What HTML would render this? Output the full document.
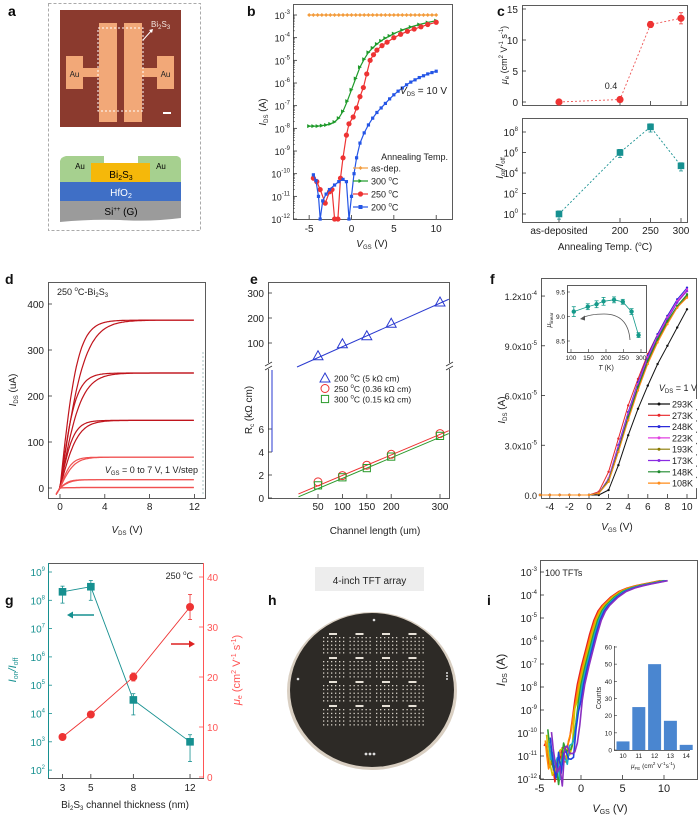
<!DOCTYPE html>
<html><head><meta charset="utf-8"><style>
html,body{margin:0;padding:0;background:#fff;}
svg{display:block;font-family:"Liberation Sans",Arial,sans-serif;}
</style></head><body>
<svg id="fig" width="700" height="817" viewBox="0 0 700 817" xmlns="http://www.w3.org/2000/svg">
<g>
<text x="8" y="16" font-size="14" font-weight="bold">a</text>
<rect x="48.5" y="3.5" width="152" height="227" fill="none" stroke="#aaa" stroke-dasharray="3,2"/>
<rect x="60" y="10" width="121" height="117" fill="#8b3a2e"/>
<rect x="66" y="56" width="17" height="33" fill="#f2a878"/>
<rect x="83" y="68" width="16" height="9" fill="#f2a878"/>
<rect x="99" y="23" width="18" height="99" fill="#f2a878"/>
<rect x="124" y="23" width="18" height="99" fill="#f2a878"/>
<rect x="142" y="68" width="15" height="9" fill="#f2a878"/>
<rect x="157" y="56" width="17" height="33" fill="#f2a878"/>
<rect x="98" y="28" width="45" height="83" fill="none" stroke="#fff" stroke-dasharray="2,2"/>
<text x="74.5" y="77" font-size="8" text-anchor="middle" fill="#222">Au</text>
<text x="165.5" y="77" font-size="8" text-anchor="middle" fill="#222">Au</text>
<text x="151" y="27" font-size="8" fill="#f3e6e0">Bi<tspan font-size="6" dy="2">2</tspan><tspan dy="-2">S</tspan><tspan font-size="6" dy="2">3</tspan></text>
<path d="M143,40 L152,30" stroke="#fff" stroke-width="1"/>
<path d="M149,30 L153,29 L152,33 Z" fill="#fff"/>
<rect x="163" y="112" width="8" height="2" fill="#fff"/>
<path d="M66,156 L104,156 L104,163 L138,163 L138,156 L177,156 Q181,157 181,161 L181,182 L60,182 L60,161 Q61,157 66,156 Z" fill="#a6d08f"/>
<rect x="91" y="163" width="59" height="19" fill="#f5b80a"/>
<rect x="60" y="182" width="121" height="19" fill="#3f6fc6"/>
<path d="M60,201 L181,201 L181,218 Q150,222 120,220 Q90,219 60,222 Z" fill="#9b9b9b"/>
<text x="80" y="169" font-size="8" text-anchor="middle">Au</text>
<text x="161" y="169" font-size="8" text-anchor="middle">Au</text>
<text x="121" y="178" font-size="10" text-anchor="middle">Bi<tspan font-size="7" dy="2">2</tspan><tspan dy="-2">S</tspan><tspan font-size="7" dy="2">3</tspan></text>
<text x="121" y="196" font-size="10" text-anchor="middle" fill="#fff">HfO<tspan font-size="7" dy="2">2</tspan></text>
<text x="121" y="215" font-size="10" text-anchor="middle">Si<tspan font-size="6" dy="-4">++</tspan><tspan dy="4"> (G)</tspan></text>
</g>
</svg>
<script>
const NS='http://www.w3.org/2000/svg';
const svg=document.getElementById('fig');
// ---------- data ----------
const bAsDep=[[-5,-3],[-4.5,-3],[-4,-3],[-3.5,-3],[-3,-3],[-2.5,-3],[-2,-3],[-1.5,-3],[-1,-3],[-0.5,-3],[0,-3],[0.5,-3],[1,-3],[1.5,-3],[2,-3],[2.5,-3],[3,-3],[3.5,-3],[4,-3],[4.5,-3],[5,-3],[5.5,-3],[6,-3],[6.5,-3],[7,-3],[7.5,-3],[8,-3],[8.5,-3],[9,-3],[9.5,-3],[10,-3]];
const b300=[[-5,-7.9],[-4.5,-7.9],[-4,-7.9],[-3.5,-7.88],[-3,-7.85],[-2.5,-7.8],[-2,-7.72],[-1.5,-7.55],[-1,-7.25],[-0.5,-6.8],[0,-6.3],[0.5,-5.8],[1,-5.3],[1.5,-4.95],[2,-4.65],[2.5,-4.45],[3,-4.28],[3.5,-4.14],[4,-4.02],[4.5,-3.92],[5,-3.82],[6,-3.66],[7,-3.53],[8,-3.42],[9,-3.33],[10,-3.25]];
const b250=[[-4.5,-10.2],[-4.1,-10.35],[-3.7,-10.7],[-3.1,-11.3],[-2.6,-10.8],[-2.3,-10.7],[-2.0,-12],[-1.6,-12],[-1.3,-10.2],[-1.0,-9.3],[-0.6,-8.3],[-0.3,-7.8],[0.2,-7.5],[0.6,-7.1],[1.0,-6.6],[1.4,-6.2],[1.8,-5.6],[2.2,-5.0],[2.6,-4.75],[3.0,-4.55],[3.6,-4.35],[4.2,-4.2],[5.0,-4.0],[5.8,-3.85],[6.6,-3.72],[7.4,-3.62],[8.2,-3.52],[9.0,-3.42],[10,-3.32]];
const b200=[[-4.5,-10.05],[-4.2,-10.3],[-3.9,-11],[-3.7,-12],[-3.4,-11.2],[-3,-10.9],[-2.6,-10.7],[-2,-10.5],[-1.5,-10.35],[-1,-10.25],[-0.6,-10.35],[-0.3,-12],[0,-11],[0.3,-10.0],[0.6,-9.3],[1,-8.65],[1.5,-8.2],[2,-7.85],[2.5,-7.55],[3,-7.3],[3.5,-7.1],[4,-6.9],[4.5,-6.7],[5,-6.52],[5.5,-6.36],[6,-6.22],[6.5,-6.08],[7,-5.96],[7.5,-5.86],[8,-5.76],[8.5,-5.68],[9,-5.6],[9.5,-5.54],[10,-5.48]];
const bXTicks=[-5,0,5,10];
const bYTicks=[-3,-4,-5,-6,-7,-8,-9,-10,-11,-12];
const cTemps=[100,200,250,300];
const cTempLabels=['as-deposited','200','250','300'];
const cMobility=[0,0.4,12.5,13.5];
const cMobErr=[0.3,0.3,0.5,0.9];
const cOnOffLog=[0,6,8.5,4.7];
const cYTicksMu=[0,5,10,15];
const cYTicksRatio=[0,2,4,6,8];
const dSat=[365,250,147,67,18,1];
const dKneeFwd=[1.6,1.4,1.2,1.0,0.8,0.6];
const dKneeBwd=[2.2,1.9,1.6,1.3,1.0,0.8];
const dXTicks=[0,4,8,12];
const dYTicks=[0,100,200,300,400];
const eLengths=[50,100,150,200,300];
const eR200=[45,93,125,175,260];
const eR250=[1.4,1.95,2.85,3.8,5.6];
const eR300=[1.1,1.8,2.6,3.6,5.4];
const eYTicksUpper=[100,200,300];
const eYTicksLower=[0,2,4,6];
const fV=[-5,-4,-3,-2,-1,0,1,2,3,4,5,6,7,8,9,10];
const fTemps=['293K','273K','248K','223K','193K','173K','148K','108K'];
const fColors=['#111','#e8262a','#2b2bd9','#e040e0','#8a7a00','#8a2be2','#1e8a2e','#ff8c1a'];
const fI=[
[0,0,0,0,0,0,0,0.3,1.8,3.6,5.2,6.6,7.9,9.0,10.1,11.2],
[0,0,0,0,0,0,0.2,1.4,3.4,5.4,7.0,8.5,9.7,10.8,11.7,12.3],
[0,0,0,0,0,0,0.1,1.0,3.0,5.0,6.8,8.4,9.7,10.8,11.8,12.5],
[0,0,0,0,0,0,0.1,1.0,2.9,4.9,6.7,8.3,9.6,10.7,11.7,12.4],
[0,0,0,0,0,0,0.1,0.8,2.6,4.6,6.4,8.0,9.3,10.4,11.3,12.0],
[0,0,0,0,0,0,0.1,0.9,2.8,4.8,6.6,8.2,9.5,10.6,11.6,12.3],
[0,0,0,0,0,0,0.1,0.9,2.7,4.7,6.5,8.1,9.4,10.5,11.4,12.1],
[0,0,0,0,0,0,0.1,0.8,2.6,4.5,6.3,7.9,9.2,10.3,11.3,11.9]];
const fXTicks=[-4,-2,0,2,4,6,8,10];
const fYTicks=[0,3,6,9,12];
const fYLabels=['0.0','3.0x10','6.0x10','9.0x10','1.2x10'];
const fYExp=['','-5','-5','-5','-4'];
const fInsetT=[108,148,173,193,223,248,273,293];
const fInsetMu=[9.1,9.2,9.25,9.31,9.34,9.3,9.1,8.62];
const fInsetErr=[0.1,0.06,0.07,0.08,0.06,0.05,0.06,0.05];
const gThick=[3,5,8,12];
const gOnOffLog=[8.3,8.48,4.48,3.0];
const gOnOffErrHi=[8.5,8.7,4.7,3.25];
const gOnOffErrLo=[7.9,8.0,3.95,2.3];
const gMobility=[8,12.5,20,34];
const gMobErr=[0.5,0.6,0.8,2.5];
const gYTicksLeft=[2,3,4,5,6,7,8,9];
const gYTicksRight=[0,10,20,30,40];
const iBaseV=[-4,-3.8,-3.6,-3.3,-3,-2.7,-2.4,-2.1,-1.8,-1.5,-1.2,-0.9,-0.6,-0.3,0,0.5,1,1.5,2,2.5,3,4,5,6,7,8,9,10];
const iBaseLog=[-10.2,-10.8,-11.2,-11.6,-11.2,-12,-11,-10.8,-11,-10.9,-10.7,-10.2,-9.3,-8.6,-7.9,-7.1,-6.4,-5.7,-5.1,-4.7,-4.45,-4.1,-3.85,-3.7,-3.6,-3.52,-3.45,-3.38];
const iShifts=[-0.45,-0.3,-0.15,0,0.15,0.3,0.45];
const iColors=['#e82020','#ff8c00','#d4c000','#30a030','#1ab0c0','#2040e0','#8a30c0'];
const iHistBins=[10,11,12,13,14];
const iHistCounts=[5,25,50,17,3];
const iXTicks=[-5,0,5,10];
const iYTicks=[-3,-4,-5,-6,-7,-8,-9,-10,-11,-12];

// ---------- helpers ----------
function mk(tag,attrs,name,parent){
  const e=document.createElementNS(NS,tag);
  for(const k in attrs) e.setAttribute(k,attrs[k]);
  
  
  (parent||svg).appendChild(e);
  return e;
}
function T(x,y,html,fs,anchor,fill,name,extra){
  const a={x:x,y:y,'font-size':fs,'text-anchor':anchor||'middle',fill:fill||'#222'};
  if(extra) for(const k in extra) a[k]=extra[k];
  const t=mk('text',a,name);
  t.innerHTML=html;
  return t;
}
function deg(s){const i=s.indexOf('°');if(i<0)return s;return s.slice(0,i)+'<tspan font-size="6" dy="-4">o</tspan><tspan dy="4">'+s.slice(i+1)+'</tspan>';}
function line(x1,y1,x2,y2,stroke,w,name,dash){
  const a={x1:x1,y1:y1,x2:x2,y2:y2,stroke:stroke,'stroke-width':w||1};
  if(dash) a['stroke-dasharray']=dash;
  return mk('line',a,name);
}
function frame(x,y,w,h,name,stroke){
  return mk('rect',{x:x+0.5,y:y+0.5,width:w,height:h,fill:'none',stroke:stroke||'#333','stroke-width':0.8},name);
}
function poly(pts,stroke,w,name,dash){
  const a={points:pts.map(p=>p[0].toFixed(1)+','+p[1].toFixed(1)).join(' '),fill:'none',stroke:stroke,'stroke-width':w||1,'stroke-linejoin':'round'};
  if(dash) a['stroke-dasharray']=dash;
  return mk('polyline',a,name);
}
function marker(shape,x,y,s,fill,stroke,name){
  if(shape==='circle') return mk('circle',{cx:x,cy:y,r:s,fill:fill,stroke:stroke||'none','stroke-width':1},name);
  if(shape==='square') return mk('rect',{x:x-s,y:y-s,width:2*s,height:2*s,fill:fill,stroke:stroke||'none','stroke-width':1},name);
  if(shape==='diamond') return mk('polygon',{points:`${x},${y-s} ${x+s},${y} ${x},${y+s} ${x-s},${y}`,fill:fill,stroke:stroke||'none'},name);
  if(shape==='tri') return mk('polygon',{points:`${x-s},${y-s} ${x+s},${y} ${x-s},${y+s}`,fill:fill,stroke:stroke||'none'},name);
  if(shape==='triup') return mk('polygon',{points:`${x},${y-s} ${x+s},${y+s*0.8} ${x-s},${y+s*0.8}`,fill:fill,stroke:stroke||'none','stroke-width':1},name);
}
function pow10(e){return '10<tspan font-size="6" dy="-5">'+e+'</tspan>';}
function errbar(x,y1,y2,c,name){line(x,y1,x,y2,c,0.8,name);line(x-2,y1,x+2,y1,c,0.8,name+'-cap');line(x-2,y2,x+2,y2,c,0.8,name+'-cap');}

// ---------- panel b ----------
const bx=v=>351.5+8.47*v, by=l=>15+(-3-l)*22.67;
T(247,16,'b',14,'start','#111','label-b',{'font-weight':'bold'});
frame(293,4,159,215,'b-plot-frame');
bYTicks.forEach(l=>{const y=by(l);line(293,y,297,y,'#333',0.8,'b-y-tick');T(290,y+4,pow10(l),9,'end','#222','b-y-tick-label');
  for(let k=2;k<10;k++){const ym=by(l-1+Math.log10(k));if(l>-12)line(293,ym,295,ym,'#333',0.5,'b-y-minor-tick');}});
bXTicks.forEach(v=>{const x=bx(v);line(x,219,x,215,'#333',0.8,'b-x-tick');T(x,232,String(v),10,'middle','#222','b-x-tick-label');});
T(372,247,'<tspan font-style="italic">V</tspan><tspan font-size="6" dy="2">GS</tspan><tspan dy="-2"> (V)</tspan>',10,'middle','#222','b-x-axis-title');
T(266,112,'<tspan font-style="italic">I</tspan><tspan font-size="6" dy="2">DS</tspan><tspan dy="-2"> (A)</tspan>',10,'middle','#222','b-y-axis-title',{transform:'rotate(-90 266 112)'});
[[bAsDep,'#f39c3c','diamond','as-dep'],[b300,'#1e9a2a','tri','300C'],[b250,'#ee3333','circle','250C'],[b200,'#2455e6','square','200C']].forEach(([d,c,s,n])=>{
  poly(d.map(p=>[bx(p[0]),by(p[1])]),c,1.2,'b-line-'+n);
  d.forEach(p=>marker(s,bx(p[0]),by(p[1]),s==='circle'?2.6:(s==='square'?1.6:2),c,null,'b-point-'+n));
});
T(447,94,'<tspan font-style="italic">V</tspan><tspan font-size="6" dy="2">DS</tspan><tspan dy="-2"> = 10 V</tspan>',10,'end','#222','b-vds-annotation');
T(448,160,'Annealing Temp.',9,'end','#222','b-legend-title');
[['as-dep.','#f39c3c','diamond'],['300 °C','#1e9a2a','tri'],['250 °C','#ee3333','circle'],['200 °C','#2455e6','square']].forEach(([lab,c,s],k)=>{
  const y=168+13*k;line(353,y,368,y,c,1.2,'b-legend-line');marker(s,360.5,y,s==='circle'?2.6:2,c,null,'b-legend-marker');
  T(371,y+3.5,deg(lab),9,'start','#222','b-legend-entry');
});

// ---------- panel c ----------
const cx=t=>559+(t-100)*0.61, cy1=m=>102-m*6.2, cy2=l=>214-l*10.25;
T(497,16,'c',14,'start','#111','label-c',{'font-weight':'bold'});
frame(522,5,165,100,'c-top-frame');frame(522,118,165,104,'c-bottom-frame');
cYTicksMu.forEach(m=>{const y=cy1(m);line(522,y,526,y,'#333',0.8,'c-mu-tick');T(518,y+4,String(m),10,'end','#222','c-mu-tick-label');});
cYTicksRatio.forEach(l=>{const y=cy2(l);line(522,y,526,y,'#333',0.8,'c-ratio-tick');T(518,y+4,pow10(l),10,'end','#222','c-ratio-tick-label');});
cTemps.forEach((t,k)=>{const x=cx(t);line(x,105,x,101,'#333',0.8,'c-top-x-tick');line(x,222,x,218,'#333',0.8,'c-bottom-x-tick');T(x,234,cTempLabels[k],10,'middle','#222','c-x-tick-label');});
T(605,250,'Annealing Temp. (<tspan font-size="6" dy="-4">o</tspan><tspan dy="4">C)</tspan>',10,'middle','#222','c-x-axis-title');
T(507,55,'<tspan font-style="italic">μ</tspan><tspan font-size="6" dy="2">e</tspan><tspan dy="-2"> (cm</tspan><tspan font-size="6" dy="-4">2</tspan><tspan dy="4"> V</tspan><tspan font-size="6" dy="-4">-1</tspan><tspan dy="4"> s</tspan><tspan font-size="6" dy="-4">-1</tspan><tspan dy="4">)</tspan>',9,'middle','#222','c-mu-axis-title',{transform:'rotate(-90 507 55)'});
T(503,168,'<tspan font-style="italic">I</tspan><tspan font-size="6" dy="2">on</tspan><tspan dy="-2" font-style="italic">/I</tspan><tspan font-size="6" dy="2">off</tspan>',10,'middle','#222','c-ratio-axis-title',{transform:'rotate(-90 503 168)'});
poly(cTemps.map((t,k)=>[cx(t),cy1(cMobility[k])]),'#ee5555',0.9,'c-mu-line','2,2');
cTemps.forEach((t,k)=>{errbar(cx(t),cy1(cMobility[k]+cMobErr[k]),cy1(cMobility[k]-cMobErr[k]),'#ee3333','c-mu-err');marker('circle',cx(t),cy1(cMobility[k]),3.6,'#ee3333',null,'c-mu-point');});
T(611,89,'0.4',9,'middle','#222','c-mu-annotation');
poly(cTemps.map((t,k)=>[cx(t),cy2(cOnOffLog[k])]),'#169090',0.9,'c-ratio-line','2,2');
cTemps.forEach((t,k)=>{errbar(cx(t),cy2(cOnOffLog[k]+0.3),cy2(cOnOffLog[k]-0.5),'#169090','c-ratio-err');marker('square',cx(t),cy2(cOnOffLog[k]),3.3,'#169090',null,'c-ratio-point');});

// ---------- panel d ----------
const dx=v=>60+11.2*v, dy=i=>488-0.46*i;
T(5,284,'d',14,'start','#111','label-d',{'font-weight':'bold'});
frame(48,282,157,216,'d-plot-frame');
dYTicks.forEach(i=>{const y=dy(i);line(48,y,52,y,'#333',0.8,'d-y-tick');T(44,y+4,String(i),10,'end','#222','d-y-tick-label');});
dXTicks.forEach(v=>{const x=dx(v);line(x,498,x,494,'#333',0.8,'d-x-tick');T(x,510,String(v),10,'middle','#222','d-x-tick-label');});
T(127,533,'<tspan font-style="italic">V</tspan><tspan font-size="6" dy="2">DS</tspan><tspan dy="-2"> (V)</tspan>',10,'middle','#222','d-x-axis-title');
T(16,390,'<tspan font-style="italic">I</tspan><tspan font-size="6" dy="2">DS</tspan><tspan dy="-2"> (uA)</tspan>',10,'middle','#222','d-y-axis-title',{transform:'rotate(-90 16 390)'});
line(203,352,203,496,'#8aa','0.7','d-dashed-marker','2,2');
dSat.forEach((s,k)=>{
  [dKneeFwd[k],dKneeBwd[k]].forEach((kn,j)=>{
    const pts=[];for(let v=-0.35;v<=12.001;v+=0.1){const i=Math.max(s*Math.tanh(Math.max(v,0)/kn),0)-(v<0?-v*40:0);pts.push([dx(v),dy(i)]);}
    poly(pts,k<3?'#c0141c':'#f05050',1.2,'d-output-curve');
  });
});
T(57,295,'250 <tspan font-size="6" dy="-4">o</tspan><tspan dy="4">C-Bi</tspan><tspan font-size="6" dy="2">2</tspan><tspan dy="-2">S</tspan><tspan font-size="6" dy="2">3</tspan>',9,'start','#222','d-sample-label');
T(198,473,'<tspan font-style="italic">V</tspan><tspan font-size="6" dy="2">GS</tspan><tspan dy="-2"> = 0 to 7 V, 1 V/step</tspan>',9,'end','#222','d-vgs-annotation');

// ---------- panel e ----------
const ex=l=>293.6+0.488*l, eyU=r=>293+(300-r)*0.25, eyL=r=>498-r*11.5;
T(250,284,'e',14,'start','#111','label-e',{'font-weight':'bold'});
frame(268,282,181,216,'e-plot-frame');
mk('rect',{x:264,y:363,width:8,height:6,fill:'#fff'},'e-break-gap-left');mk('rect',{x:445,y:363,width:8,height:6,fill:'#fff'},'e-break-gap-right');
line(265,366,272,362,'#333',0.8,'e-break-mark');line(265,370,272,366,'#333',0.8,'e-break-mark');
line(446,366,453,362,'#333',0.8,'e-break-mark');line(446,370,453,366,'#333',0.8,'e-break-mark');
eYTicksUpper.forEach(r=>{const y=eyU(r);line(268,y,272,y,'#333',0.8,'e-y-tick-upper');T(264,y+4,String(r),10,'end','#222','e-y-tick-label-upper');});
eYTicksLower.forEach(r=>{const y=eyL(r);line(268,y,272,y,'#333',0.8,'e-y-tick-lower');T(264,y+4,String(r),10,'end','#222','e-y-tick-label-lower');});
eLengths.forEach(l=>{const x=ex(l);line(x,498,x,494,'#333',0.8,'e-x-tick');T(x,510,String(l),10,'middle','#222','e-x-tick-label');});
T(375,534,'Channel length (um)',10,'middle','#222','e-x-axis-title');
T(252,410,'R<tspan font-size="6" dy="2">c</tspan><tspan dy="-2"> (kΩ cm)</tspan>',10,'middle','#222','e-y-axis-title',{transform:'rotate(-90 252 410)'});
line(ex(7),eyU(4),ex(318),eyU(275),'#2a3ad0',1,'e-fit-200C');
line(272,452,272,370,'#2a3ad0',1,'e-fit-200C-lower');
line(ex(10),eyL(0.35),ex(318),eyL(5.85),'#ee3030',1,'e-fit-250C');
line(ex(10),eyL(0.1),ex(318),eyL(5.6),'#2a9a2a',1,'e-fit-300C');
eLengths.forEach((l,k)=>{
  marker('triup',ex(l),eyU(eR200[k])-1,5,'none','#2a3ad0','e-point-200C');
  marker('circle',ex(l),eyL(eR250[k]),4,'none','#ee3030','e-point-250C');
  marker('square',ex(l),eyL(eR300[k]),3.6,'none','#2a9a2a','e-point-300C');
});
[['triup','#2a3ad0','200 °C (5 kΩ cm)'],['circle','#ee3030','250 °C (0.36 kΩ cm)'],['square','#2a9a2a','300 °C (0.15 kΩ cm)']].forEach(([s,c,lab],k)=>{
  const y=378+10.5*k;marker(s,325,y,s==='circle'?4:(s==='square'?3.6:5),'none',c,'e-legend-marker');
  T(334,y+3.5,deg(lab),8.5,'start','#222','e-legend-entry');
});

// ---------- panel f ----------
const fx=v=>589+9.8*v, fy=i=>495-i*16.58;
T(490,284,'f',14,'start','#111','label-f',{'font-weight':'bold'});
frame(541,278,155,220,'f-plot-frame');
fYTicks.forEach((i,k)=>{const y=fy(i);line(541,y,545,y,'#333',0.8,'f-y-tick');T(537,y+4,fYLabels[k]+(fYExp[k]?'<tspan font-size="6" dy="-5">'+fYExp[k]+'</tspan>':''),9,'end','#222','f-y-tick-label');});
fXTicks.forEach(v=>{const x=fx(v);line(x,498,x,494,'#333',0.8,'f-x-tick');T(x,510,String(v),10,'middle','#222','f-x-tick-label');});
T(617,530,'<tspan font-style="italic">V</tspan><tspan font-size="6" dy="2">GS</tspan><tspan dy="-2"> (V)</tspan>',10,'middle','#222','f-x-axis-title');
T(505,410,'<tspan font-style="italic">I</tspan><tspan font-size="6" dy="2">DS</tspan><tspan dy="-2"> (A)</tspan>',10,'middle','#222','f-y-axis-title',{transform:'rotate(-90 505 410)'});
fI.forEach((arr,k)=>{
  const pts=fV.map((v,j)=>[fx(v),fy(arr[j])]);
  poly(pts,fColors[k],1,'f-curve-'+fTemps[k]);
  pts.forEach(p=>marker('circle',p[0],p[1],1.2,fColors[k],null,'f-point-'+fTemps[k]));
});
T(697,391,'<tspan font-style="italic">V</tspan><tspan font-size="6" dy="2">DS</tspan><tspan dy="-2"> = 1 V</tspan>',9,'end','#222','f-vds-annotation');
fTemps.forEach((t,k)=>{const y=404+11.3*k;mk('rect',{x:647,y:y-5,width:50,height:10,fill:'#fff'},'f-legend-bg');line(648,y,670,y,fColors[k],1.2,'f-legend-line');marker('circle',659,y,1.5,fColors[k],null,'f-legend-marker');T(672,y+3.5,t,9,'start','#222','f-legend-entry');});
// inset
const ix=t=>571+(t-100)*0.35, iy=m=>292+(9.5-m)*49;
mk('rect',{x:567.5,y:285.5,width:79,height:67,fill:'#fff',stroke:'#333','stroke-width':0.8},'f-inset-frame');
[8.5,9.0,9.5].forEach(m=>{const y=iy(m);line(567,y,570,y,'#333',0.6,'f-inset-y-tick');T(565,y+2.5,m.toFixed(1),6.5,'end','#222','f-inset-y-tick-label');});
[100,150,200,250,300].forEach(t=>{const x=ix(t);line(x,352,x,349,'#333',0.6,'f-inset-x-tick');T(x,360,String(t),6.5,'middle','#222','f-inset-x-tick-label');});
T(606,370,'<tspan font-style="italic">T</tspan> (K)',7,'middle','#222','f-inset-x-title');
T(551,320,'<tspan font-style="italic">μ</tspan><tspan font-size="4.5" dy="2">linear</tspan>',7,'middle','#222','f-inset-y-title',{transform:'rotate(-90 551 320)'});
poly(fInsetT.map((t,k)=>[ix(t),iy(fInsetMu[k])]),'#159a8a',0.8,'f-inset-line');
fInsetT.forEach((t,k)=>{errbar(ix(t),iy(fInsetMu[k]+fInsetErr[k]),iy(fInsetMu[k]-fInsetErr[k]),'#159a8a','f-inset-err');marker('circle',ix(t),iy(fInsetMu[k]),2.2,'#159a8a',null,'f-inset-point');});
mk('path',{d:'M630,340 Q628,314 604,314 Q590,314 582,318',fill:'none',stroke:'#555','stroke-width':0.8},'f-inset-arrow');
mk('path',{d:'M580,319 L585,315.5 L585,320.5 Z',fill:'#555'},'f-inset-arrowhead');

// ---------- panel g ----------
const gx=t=>62.5+(t-3)*14.17, gyL=l=>572+(9-l)*28.3, gyR=m=>777-m*5;
T(5,605,'g',14,'start','#111','label-g',{'font-weight':'bold'});
frame(48,563,155,215,'g-plot-frame');
line(48.5,563,48.5,778,'#169090',1,'g-left-axis');line(203.5,563,203.5,778,'#ff5555',1,'g-right-axis');
gYTicksLeft.forEach(l=>{const y=gyL(l);line(48,y,52,y,'#169090',0.8,'g-left-tick');T(45,y+4,pow10(l),10,'end','#169090','g-left-tick-label');});
gYTicksRight.forEach(m=>{const y=gyR(m);line(199,y,203,y,'#ff5555',0.8,'g-right-tick');T(207,y+4,String(m),10,'start','#ff5555','g-right-tick-label');});
gThick.forEach(t=>{const x=gx(t);line(x,778,x,774,'#333',0.8,'g-x-tick');T(x,791,String(t),10,'middle','#222','g-x-tick-label');});
T(125,808,'Bi<tspan font-size="6" dy="2">2</tspan><tspan dy="-2">S</tspan><tspan font-size="6" dy="2">3</tspan><tspan dy="-2"> channel thickness (nm)</tspan>',10,'middle','#222','g-x-axis-title');
T(16,670,'<tspan font-style="italic">I</tspan><tspan font-size="7" dy="2">on</tspan><tspan dy="-2" font-style="italic">/I</tspan><tspan font-size="7" dy="2">off</tspan>',11,'middle','#169090','g-left-axis-title',{transform:'rotate(-90 16 670)'});
T(240,670,'<tspan font-style="italic">μ</tspan><tspan font-size="7" dy="2">e</tspan><tspan dy="-2"> (cm</tspan><tspan font-size="7" dy="-4">2</tspan><tspan dy="4"> V</tspan><tspan font-size="7" dy="-4">-1</tspan><tspan dy="4"> s</tspan><tspan font-size="7" dy="-4">-1</tspan><tspan dy="4">)</tspan>',11,'middle','#ff5555','g-right-axis-title',{transform:'rotate(-90 240 670)'});
poly(gThick.map((t,k)=>[gx(t),gyL(gOnOffLog[k])]),'#169090',0.9,'g-onoff-line');
poly(gThick.map((t,k)=>[gx(t),gyR(gMobility[k])]),'#ee3333',0.9,'g-mobility-line');
gThick.forEach((t,k)=>{
  errbar(gx(t),gyL(gOnOffErrHi[k]),gyL(gOnOffErrLo[k]),'#169090','g-onoff-err');
  marker('square',gx(t),gyL(gOnOffLog[k]),3.8,'#169090',null,'g-onoff-point');
  errbar(gx(t),gyR(gMobility[k]+gMobErr[k]),gyR(gMobility[k]-gMobErr[k]),'#ee3333','g-mobility-err');
  marker('circle',gx(t),gyR(gMobility[k]),4,'#ee3333',null,'g-mobility-point');
});
T(193,579,'250 <tspan font-size="6" dy="-4">o</tspan><tspan dy="4">C</tspan>',9,'end','#222','g-temp-label');
line(70,615,94,615,'#169090',1.5,'g-left-arrow');mk('path',{d:'M67,615 L73,611.5 L73,618.5 Z',fill:'#169090'},'g-left-arrowhead');
line(171,644,191,644,'#dd2222',1.5,'g-right-arrow');mk('path',{d:'M195,644 L189,640.5 L189,647.5 Z',fill:'#dd2222'},'g-right-arrowhead');

// ---------- panel h ----------
T(268,605,'h',14,'start','#111','label-h',{'font-weight':'bold'});
mk('rect',{x:315,y:567,width:109,height:24,fill:'#ededed'},'h-title-box');
T(369.5,584,'4-inch TFT array',10,'middle','#222','h-title');
mk('ellipse',{cx:372,cy:691,rx:85,ry:79,fill:'#d9cfc2'},'wafer-rim');
mk('ellipse',{cx:372,cy:690,rx:82,ry:77,fill:'#2d2a26'},'wafer');
for(let bi=0;bi<4;bi++)for(let bj=0;bj<4;bj++){
  const x0=323+bj*26.5, y0=633+bi*24;
  mk('rect',{x:x0+6,y:y0,width:8,height:2,fill:'#e8e2d8'},'wafer-block-label');
  for(let r=0;r<5;r++)for(let c=0;c<6;c++) mk('rect',{x:x0+c*4,y:y0+4+r*3.8,width:1.3,height:1.3,fill:'#d8d2c8'},'tft-device');
}
mk('circle',{cx:374,cy:620,r:1.3,fill:'#ddd'},'wafer-mark-top');
mk('circle',{cx:298,cy:679,r:1.3,fill:'#ddd'},'wafer-mark-left');
[0,1,2].forEach(k=>mk('circle',{cx:447,cy:673+k*3,r:1,fill:'#ddd'},'wafer-mark-right'));
[0,1,2].forEach(k=>mk('circle',{cx:366+k*4,cy:754,r:1.4,fill:'#ddd'},'wafer-mark-bottom'));

// ---------- panel i ----------
const ivx=v=>581+8.3*v, ivy=l=>572+(-3-l)*23;
T(487,605,'i',14,'start','#111','label-i',{'font-weight':'bold'});
frame(540,560,157,219,'i-plot-frame');
iYTicks.forEach(l=>{const y=ivy(l);line(540,y,544,y,'#333',0.8,'i-y-tick');T(537,y+4,pow10(l),10,'end','#222','i-y-tick-label');});
iXTicks.forEach(v=>{const x=ivx(v);line(x,779,x,775,'#333',0.8,'i-x-tick');T(x,792,String(v),11,'middle','#222','i-x-tick-label');});
T(610,812,'<tspan font-style="italic">V</tspan><tspan font-size="7" dy="2">GS</tspan><tspan dy="-2"> (V)</tspan>',11,'middle','#222','i-x-axis-title');
T(505,670,'<tspan font-style="italic">I</tspan><tspan font-size="7" dy="2">DS</tspan><tspan dy="-2"> (A)</tspan>',12,'middle','#222','i-y-axis-title',{transform:'rotate(-90 505 670)'});
iShifts.forEach((s,k)=>{
  const pts=iBaseV.map((v,j)=>[ivx(v+s),ivy(Math.max(-12.3,iBaseLog[j]+(j<13?((k*37+j*13)%7-3)*0.12:0)))]);
  poly(pts,iColors[k],1.6,'i-transfer-curve');
});
T(545,576,'100 TFTs',9,'start','#222','i-count-label');
const hx=b=>623+(b-10)*15.8, hy=c=>750-c*1.717;
mk('rect',{x:614,y:646,width:76,height:104,fill:'#fff'},'i-inset-bg');
line(614.5,646,614.5,750,'#333',0.7,'i-inset-y-axis');line(614,750.5,690,750.5,'#333',0.7,'i-inset-x-axis');
[0,10,20,30,40,50,60].forEach(c=>{const y=hy(c);line(614,y,617,y,'#333',0.6,'i-inset-y-tick');T(612,y+2.5,String(c),6.5,'end','#222','i-inset-y-tick-label');});
iHistBins.forEach((b,k)=>{mk('rect',{x:hx(b)-6.5,y:hy(iHistCounts[k]),width:13,height:750-hy(iHistCounts[k]),fill:'#4a86d0'},'i-hist-bar');T(hx(b),758,String(b),6.5,'middle','#222','i-inset-x-tick-label');});
T(653,768,'<tspan font-style="italic">μ</tspan><tspan font-size="4.5" dy="2">FE</tspan><tspan dy="-2"> (cm</tspan><tspan font-size="4.5" dy="-3">2</tspan><tspan dy="3"> V</tspan><tspan font-size="4.5" dy="-3">-1</tspan><tspan dy="3">s</tspan><tspan font-size="4.5" dy="-3">-1</tspan><tspan dy="3">)</tspan>',6.5,'middle','#222','i-inset-x-title');
T(601,698,'Counts',7,'middle','#222','i-inset-y-title',{transform:'rotate(-90 601 698)'});
</script>
</body></html>
